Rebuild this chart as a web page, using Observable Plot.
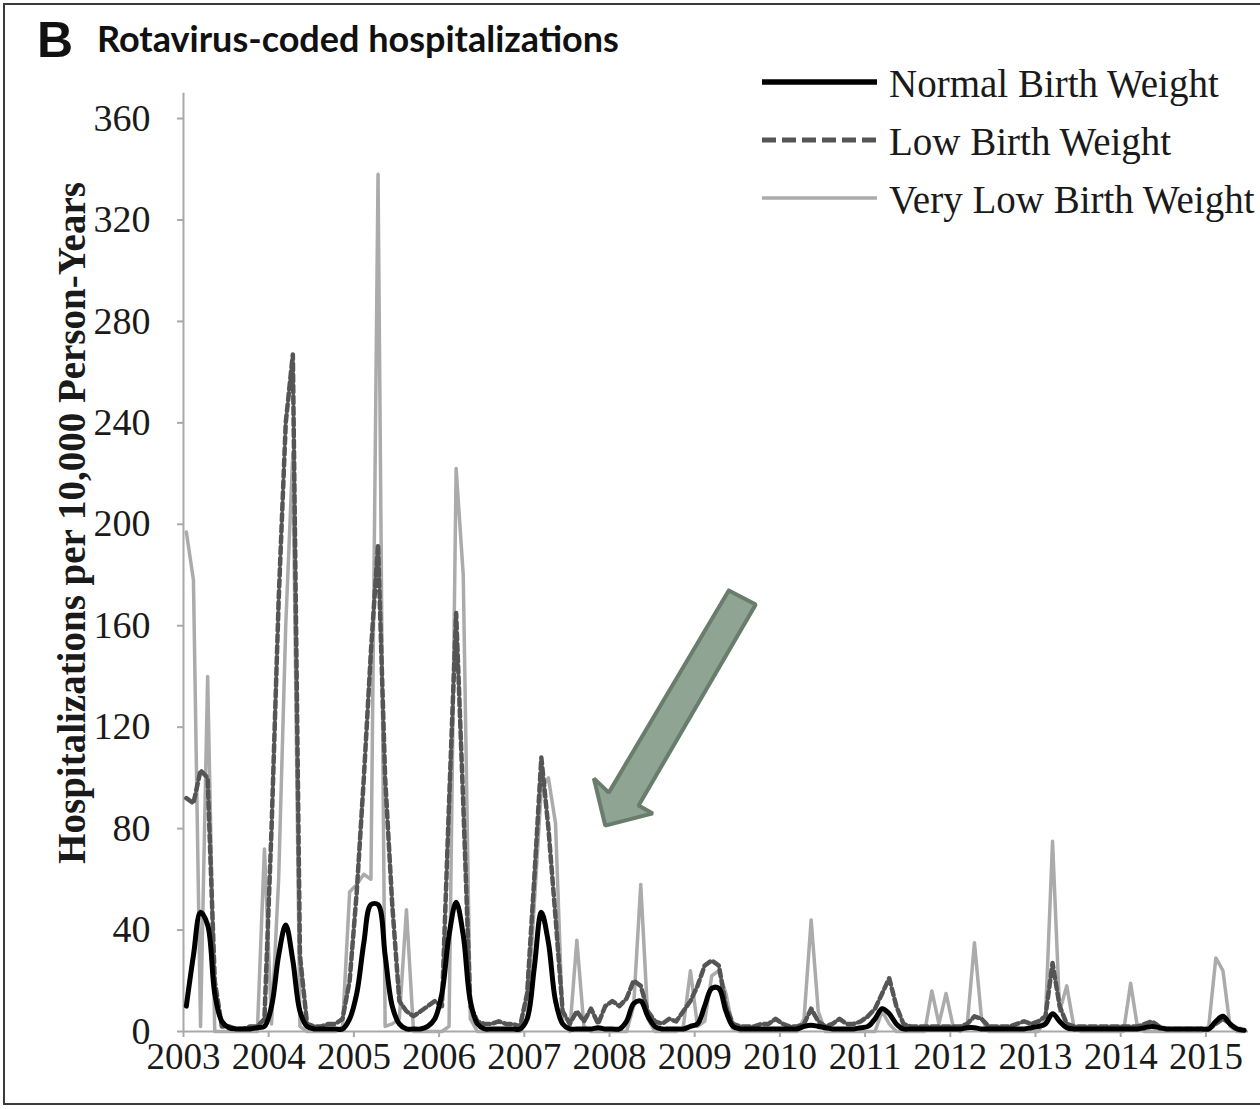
<!DOCTYPE html>
<html>
<head>
<meta charset="utf-8">
<script src="https://cdn.jsdelivr.net/npm/d3@7"></script>
<script src="https://cdn.jsdelivr.net/npm/@observablehq/plot@0.6"></script>
<style>
  html, body { margin: 0; padding: 0; background: #fff; }
  #wrap { position: relative; width: 1260px; height: 1109px; overflow: hidden; background: #fff; }
  #chart { position: absolute; left: 0; top: 0; }
  #border { position: absolute; left: 3px; top: 3px; width: 1270px; height: 1102px; border: 2px solid #3a3a3a; box-sizing: border-box; pointer-events: none; }
  .tb { position: absolute; white-space: nowrap; line-height: 1; color: #111; }
  #titleB { left: 37px; top: 15px; font-family: "Liberation Sans", Arial, sans-serif; font-weight: bold; font-size: 50px; }
  #titleT { left: 97px; top: 20px; font-family: Lato, "Open Sans", sans-serif; font-weight: bold; font-size: 36px; }
  #legend { position: absolute; left: 0; top: 0; }
  .lg { position: absolute; left: 762px; height: 60px; width: 520px; }
  .lg svg { position: absolute; left: 0; top: 0; }
  .lg span { position: absolute; left: 127px; white-space: nowrap; line-height: 1; font-family: "Liberation Serif", "Times New Roman", serif; font-size: 39px; color: #1a1a1a; }
</style>
</head>
<body>
<div id="wrap">
  <div id="chart"></div>
  <div class="tb" id="titleB">B</div>
  <div class="tb" id="titleT">Rotavirus-coded hospitalizations</div>
  <div id="legend"></div>
  <div id="border"></div>
</div>
<script>
// ---------- data (monthly, Jan 2003 – Jun 2015) ----------
const years = ["2003","2004","2005","2006","2007","2008","2009","2010","2011","2012","2013","2014","2015"];
const yTicks = [0, 40, 80, 120, 160, 200, 240, 280, 320, 360];
const seriesNames = ["Normal Birth Weight", "Low Birth Weight", "Very Low Birth Weight"];
const yLabel = "Hospitalizations per 10,000 Person-Years";

const normalBW = [
  10, 30, 47, 42, 15, 4, 1.5, 1, 1, 1, 1.5, 2,        // 2003
  10, 30, 42, 28, 8, 2, 1, 1, 1, 1, 1, 5,             // 2004
  15, 35, 50, 50, 30, 10, 3, 1, 1, 1, 2, 5,           // 2005
  15, 38, 51, 38, 12, 3, 1, 1, 1, 1, 1, 1,            // 2006
  5, 25, 47, 35, 12, 3, 1, 1, 1, 1, 1.5, 1,           // 2007
  1, 1, 4, 11, 12, 6, 2, 1, 1, 1, 1, 2,               // 2008
  3, 10, 17, 17, 8, 2, 1, 1, 1, 1, 1, 1,              // 2009
  1, 1, 1, 2, 2.5, 2, 1.5, 1, 1, 1, 1, 1.5,           // 2010
  2, 5, 9, 7, 3, 1, 1, 1, 1, 1, 1, 1,                 // 2011
  1, 1, 1.5, 1.5, 1, 1, 1, 1, 1, 1, 1, 1.5,           // 2012
  2, 3, 7, 4, 1.5, 1, 1, 1, 1, 1, 1, 1,               // 2013
  1, 1, 1, 1.5, 2, 1.5, 1, 1, 1, 1, 1, 1,             // 2014
  1, 4, 6, 3, 1, 0.5                                  // 2015
];
const lowBW = [
  92, 90, 103, 100, 20, 2, 2, 1, 1, 2, 2, 5,
  80, 170, 240, 267, 30, 3, 2, 2, 3, 3, 5, 20,
  55, 100, 150, 192, 100, 50, 12, 8, 6, 8, 10, 12,
  10, 90, 165, 90, 10, 4, 3, 3, 4, 3, 3, 2,
  15, 60, 108, 80, 45, 8, 3, 8, 4, 9, 3, 10,
  12, 10, 13, 20, 18, 8, 4, 3, 5, 4, 8, 12,
  18, 26, 28, 26, 10, 3, 2, 2, 2, 3, 3, 5,
  3, 2, 2, 3, 9, 4, 2, 3, 5, 3, 3, 4,
  6, 9, 15, 21, 10, 3, 2, 2, 2, 2, 2, 2,
  2, 2, 3, 6, 5, 2, 2, 2, 2, 3, 4, 3,
  4, 6, 27, 10, 3, 2, 2, 2, 2, 2, 2, 2,
  2, 2, 2, 3, 4, 2, 1, 1, 1, 1, 1, 1,
  1, 3, 5, 3, 1, 1
];
const veryLowBW = [
  197, 178, 2, 140, 0, 0, 0, 0, 0, 0, 0, 72,
  3, 60, 160, 228, 2, 0, 0, 0, 0, 0, 2, 55,
  58, 62, 60, 338, 2, 3, 5, 48, 0, 0, 0, 0,
  0, 2, 222, 180, 5, 0, 0, 0, 0, 0, 0, 0,
  5, 50, 96, 100, 82, 3, 0, 36, 2, 0, 0, 0,
  0, 0, 0, 10, 58, 5, 0, 0, 0, 0, 2, 24,
  2, 4, 22, 24, 15, 1, 0, 0, 0, 0, 0, 0,
  0, 0, 0, 5, 44, 8, 0, 0, 0, 0, 0, 0,
  0, 0, 8, 3, 0, 0, 0, 0, 0, 16, 3, 15,
  2, 0, 3, 35, 5, 0, 0, 0, 0, 0, 0, 0,
  0, 5, 75, 8, 18, 2, 0, 0, 0, 0, 0, 0,
  0, 19, 1, 0, 0, 0, 0, 0, 0, 0, 0, 0,
  2, 29, 24, 2, 0, 0
];
// annotation arrow outline, in (month index, rate) data units
const arrowMonths = [76.8, 80.6, 64.1, 66.1, 59.4, 57.8, 59.9, 76.8];
const arrowRates  = [173.9, 168.4, 89.1, 86.0, 81.2, 99.8, 94.2, 173.9];

// ---------- build ----------
const monthOffset = 0.4; // points sit within their month
const toRows = vals => vals.map((v, i) => ({m: i + monthOffset, v}));
const arrowRows = arrowMonths.map((m, i) => ({m, v: arrowRates[i]}));
const yearTicks = years.map((_, i) => i * 12);

const styles = {
  nbw: {stroke: "#000000", strokeWidth: 5, dash: null},
  lbw: {stroke: "#555555", strokeWidth: 4.5, dash: "7,4"},
  vlbw: {stroke: "#ababab", strokeWidth: 3.5, dash: null}
};

const plot = Plot.plot({
  width: 1260,
  height: 1109,
  marginLeft: 183,
  marginRight: 12,
  marginTop: 80,
  marginBottom: 78,
  style: {background: "transparent", fontFamily: "'Liberation Serif', 'Times New Roman', serif", color: "#1a1a1a"},
  x: {domain: [0, 150], axis: null},
  y: {domain: [0, 375], axis: null},
  marks: [
    Plot.ruleY([0], {stroke: "#a8a8a8", strokeWidth: 2}),
    Plot.ruleX([0], {y1: 0, y2: 370, stroke: "#a8a8a8", strokeWidth: 2}),
    Plot.axisX({ticks: yearTicks, tickFormat: d => years[Math.round(d / 12)], tickSize: 6, tickPadding: 5,
      fontSize: 37, stroke: "#a8a8a8", strokeWidth: 2, fill: "#1a1a1a", label: null}),
    Plot.axisY({ticks: yTicks, tickSize: 6, tickPadding: 27, fontSize: 38,
      stroke: "#a8a8a8", strokeWidth: 2, fill: "#1a1a1a", label: null}),
    Plot.text([yLabel], {frameAnchor: "left", text: d => d, rotate: -90, textAnchor: "middle",
      dx: -111, dy: -33, fontSize: 39, fontWeight: "bold", fill: "#1a1a1a"}),
    Plot.line(toRows(veryLowBW), {x: "m", y: "v", stroke: styles.vlbw.stroke, strokeWidth: styles.vlbw.strokeWidth}),
    Plot.line(toRows(lowBW), {x: "m", y: "v", stroke: styles.lbw.stroke, strokeWidth: styles.lbw.strokeWidth, strokeDasharray: styles.lbw.dash}),
    Plot.line(toRows(normalBW), {x: "m", y: "v", stroke: styles.nbw.stroke, strokeWidth: styles.nbw.strokeWidth, curve: "catmull-rom"}),
    Plot.line(arrowRows, {x: "m", y: "v", fill: "#8fa493", stroke: "#687d6c", strokeWidth: 4, strokeLinejoin: "miter", curve: "linear"})
  ]
});
document.getElementById("chart").appendChild(plot);

// ---------- legend ----------
const legend = document.getElementById("legend");
const legendStyles = [
  {name: seriesNames[0], stroke: "#000000", w: 5.5, dash: null},
  {name: seriesNames[1], stroke: "#555555", w: 5, dash: "14,6"},
  {name: seriesNames[2], stroke: "#ababab", w: 3.5, dash: null}
];
const rowTops = [52, 110, 168];
legendStyles.forEach((s, i) => {
  const row = document.createElement("div");
  row.className = "lg";
  row.style.top = rowTops[i] + "px";
  row.innerHTML = `<svg width="120" height="60"><line x1="0" x2="115" y1="30" y2="30" stroke="${s.stroke}" stroke-width="${s.w}" ${s.dash ? `stroke-dasharray="${s.dash}"` : ""}/></svg><span style="top:12px">${s.name}</span>`;
  legend.appendChild(row);
});
</script>
</body>
</html>
